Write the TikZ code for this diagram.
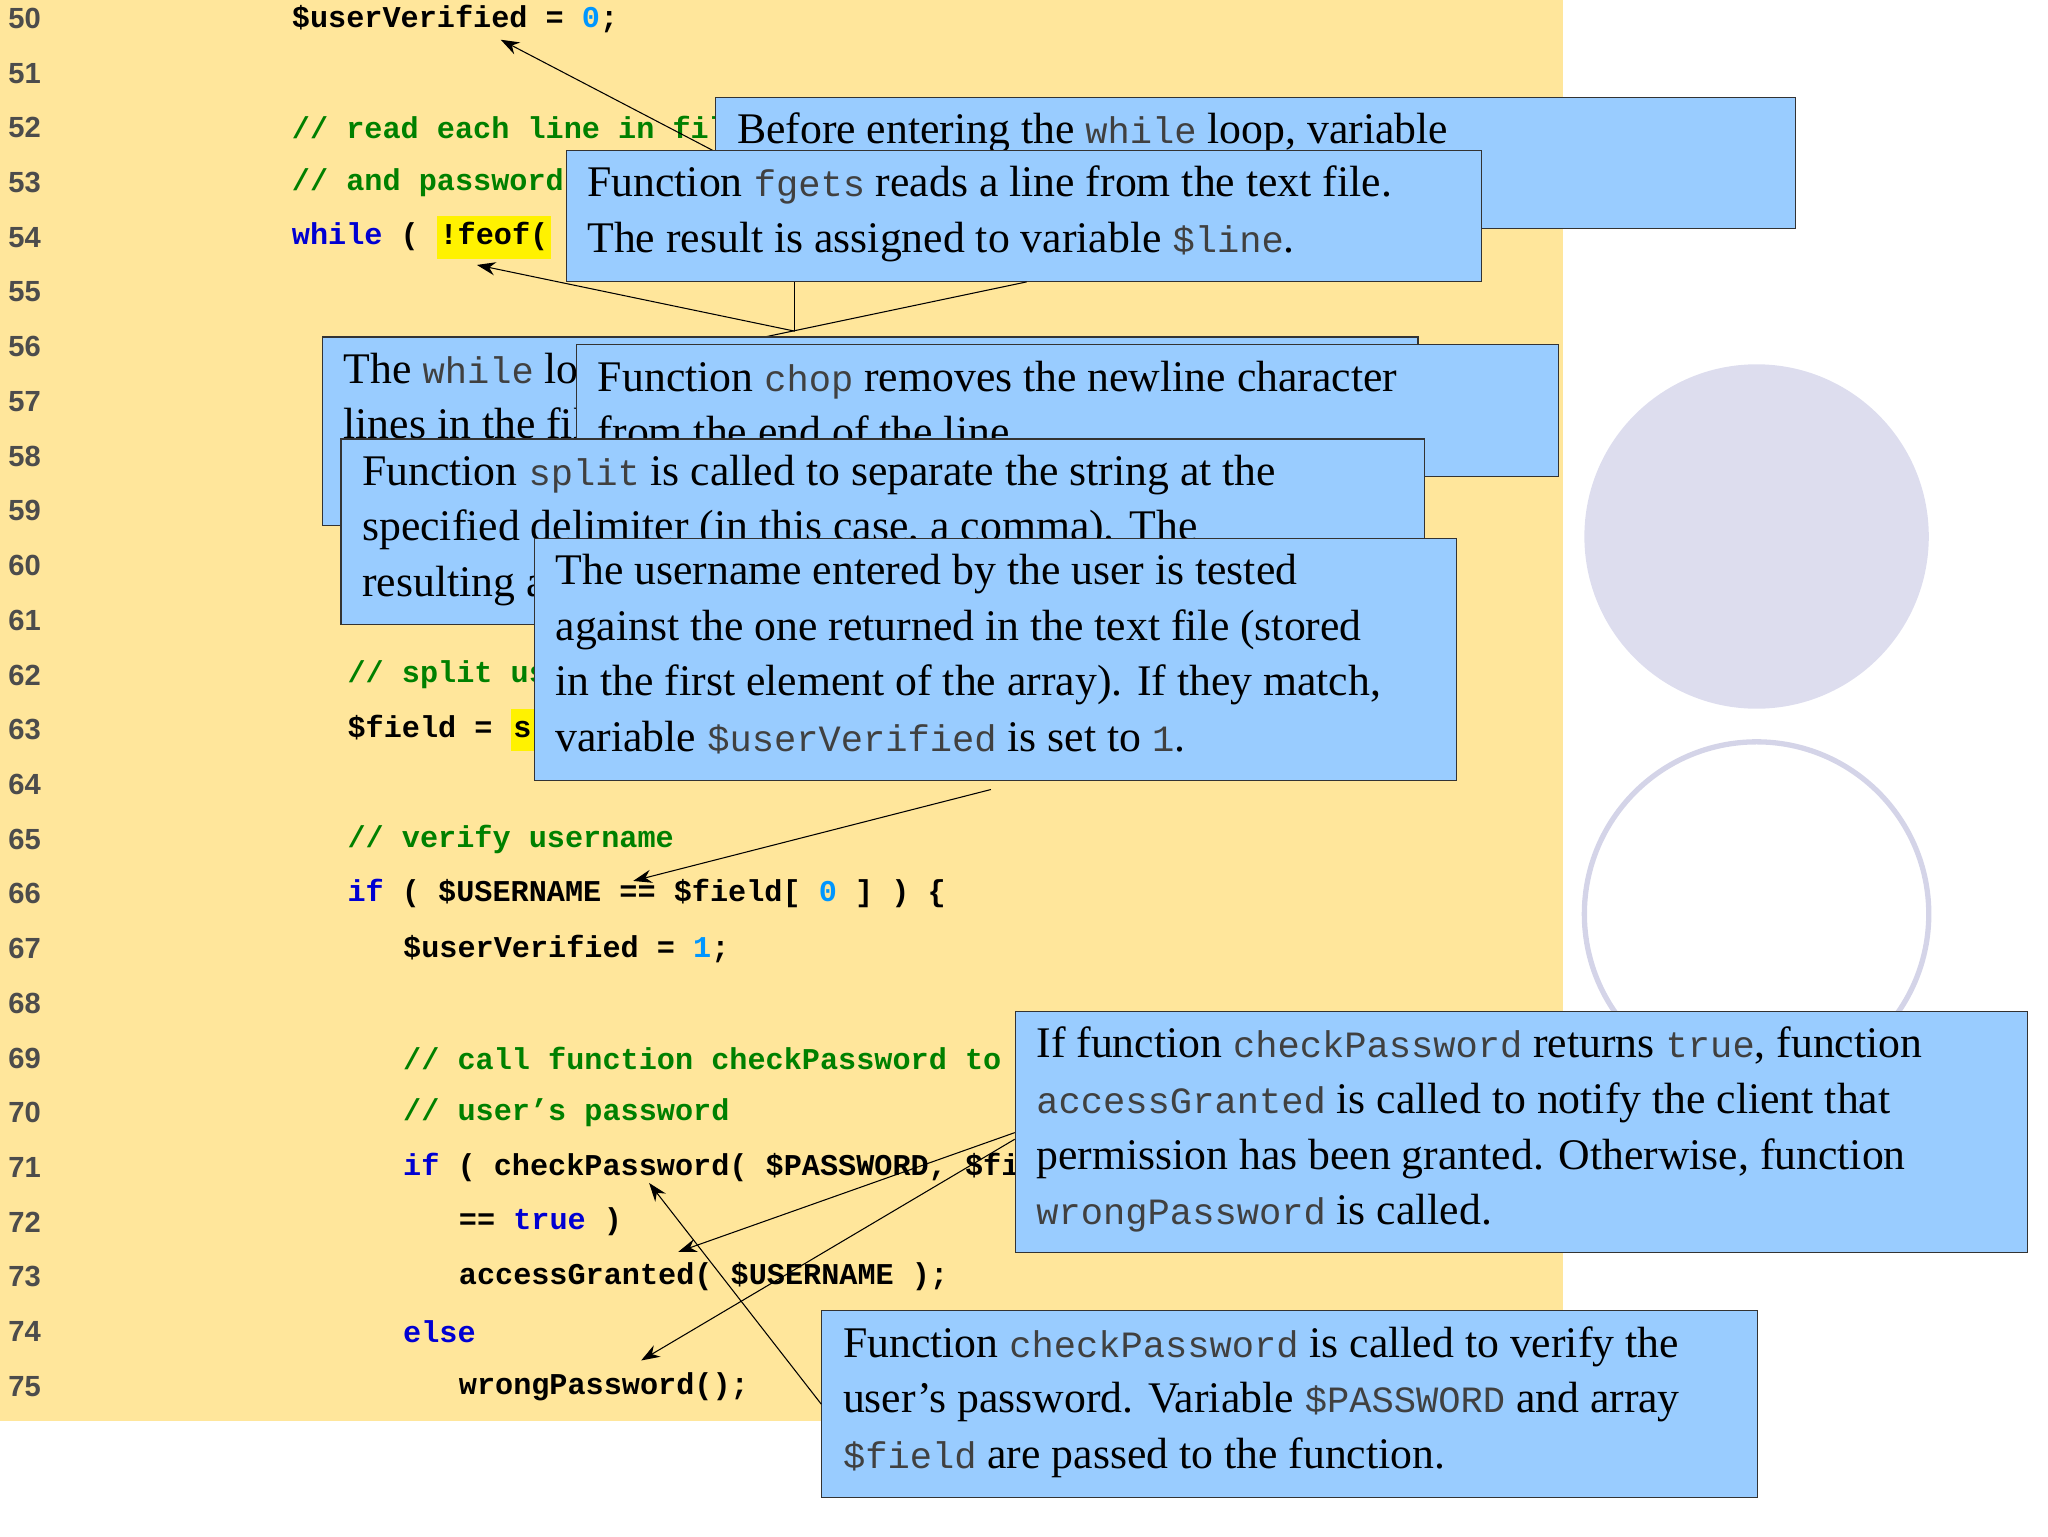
\documentclass[tikz,border=0pt]{standalone}
\usepackage{fontspec}
\setmainfont{Liberation Serif}
\newfontfamily\codefont{Liberation Mono}
\newfontfamily\numfont{Liberation Sans}
\usetikzlibrary{positioning,arrows.meta}
\definecolor{codebg}{RGB}{255,230,155}
\definecolor{callblue}{RGB}{153,204,255}
\definecolor{cmtgreen}{RGB}{0,128,0}
\definecolor{kwblue}{RGB}{0,0,210}
\definecolor{numcyan}{RGB}{0,150,255}
\definecolor{lavender}{RGB}{221,221,238}
\definecolor{lavline}{RGB}{212,212,232}
\newcommand{\cd}[1]{{\codefont\fontsize{14}{21}\selectfont\color{black!75}#1}}
\newcommand{\hl}[1]{{\setlength\fboxsep{1pt}\colorbox{yellow}{\strut #1}}}
\begin{document}
\begin{tikzpicture}[
    x=0.5pt, y=-0.5pt,
    lnum/.style={anchor=west, inner sep=0, font=\numfont\bfseries\fontsize{11}{13}\selectfont, text=black!70},
    codeline/.style={anchor=west, inner sep=0, font=\codefont\bfseries\fontsize{11.4}{14}\selectfont},
    callout/.style={draw=black!80, fill=callblue, anchor=north west, inner sep=0},
    callouttext/.style={anchor=north west, inner sep=0, align=left, font=\fontsize{16.5}{21}\selectfont},
    pointer/.style={-{Stealth[length=7pt,width=5pt]}, thin},
  ]
  \useasboundingbox (0,0) rectangle (1546,1160);
  \fill[codebg] (0,0) rectangle (1180,1073);
  % decorative circles
  \fill[lavender] (1326,405) circle[radius=130];
  \draw[lavline, line width=2pt] (1326,690) circle[radius=130];
  % line numbers
  \foreach \n in {50,...,75}
    \node[lnum] (n\n) at (6,{14+41.3*(\n-50)}) {\n};
  % code
  \node[codeline] (c50) at (220,14.0)   {\$userVerified = \textcolor{numcyan}{0};};
  \node[codeline] (c52) at (220,96.6)   {\textcolor{cmtgreen}{// read each line in file}};
  \node[codeline] (c53) at (220,137.9)  {\textcolor{cmtgreen}{// and password pair}};
  \node[codeline] (c54) at (220,179.2)  {\textcolor{kwblue}{while} ( \hl{!feof(} \$file ) ) \{};
  \node[codeline] (c62) at (262,509.6)  {\textcolor{cmtgreen}{// split user name}};
  \node[codeline] (c63) at (262,550.9)  {\$field = \hl{s}plit( ",", \$line );};
  \node[codeline] (c65) at (262,633.5)  {\textcolor{cmtgreen}{// verify username}};
  \node[codeline] (c66) at (262,674.8)  {\textcolor{kwblue}{if} ( \$USERNAME == \$field[ \textcolor{numcyan}{0} ] ) \{};
  \node[codeline] (c67) at (304,716.1)  {\$userVerified = \textcolor{numcyan}{1};};
  \node[codeline] (c69) at (304,798.7)  {\textcolor{cmtgreen}{// call function checkPassword to}};
  \node[codeline] (c70) at (304,840.0)  {\textcolor{cmtgreen}{// user’s password}};
  \node[codeline] (c71) at (304,881.3)  {\textcolor{kwblue}{if} ( checkPassword( \$PASSWORD, \$field )};
  \node[codeline] (c72) at (346,922.6)  {== \textcolor{kwblue}{true} )};
  \node[codeline] (c73) at (346,963.9)  {accessGranted( \$USERNAME );};
  \node[codeline] (c74) at (304,1005.2) {\textcolor{kwblue}{else}};
  \node[codeline] (c75) at (346,1046.5) {wrongPassword();};
  % pointer targets
  \coordinate (t50) at (378,30);
  \coordinate (t54) at (360,200);
  \coordinate (t66) at (478,665);
  \coordinate (t71) at (490,893);
  \coordinate (t73) at (512,945);
  \coordinate (t75) at (484,1027);
  \coordinate (joint) at (600,250);
  % callouts
  \draw[pointer] (560,125) -- (t50);
  \node[callout, minimum width=407.5pt, minimum height=49.5pt] (before) at (540,73) {};
  \node[callouttext] at ([shift={(16,12)}]before.north west) {Before entering the \cd{while} loop, variable};
  \node[callout, minimum width=345.5pt, minimum height=49.5pt] (fgets) at (427,113) {};
  \node[callouttext] at ([shift={(16,12)}]fgets.north west)
    {Function \cd{fgets} reads a line from the text file.\\The result is assigned to variable \cd{\$line}.};
  \draw (fgets.south -| joint) -- (joint);
  \draw[pointer] (joint) -- (t54);
  \draw (fgets.south -| 775,0) -- (560,258);
  \node[callout, minimum width=413.5pt, minimum height=71pt] (loop) at (243,254) {};
  \node[callouttext] at ([shift={(16,12)}]loop.north west)
    {The \cd{while} loop executes as long as there are\\lines in the file to read.};
  \node[callout, minimum width=370.5pt, minimum height=49.5pt] (chop) at (435,260) {};
  \node[callouttext] at ([shift={(16,12)}]chop.north west)
    {Function \cd{chop} removes the newline character\\from the end of the line.};
  \node[callout, minimum width=409pt, minimum height=70pt] (split) at (257,331) {};
  \node[callouttext] at ([shift={(16,12)}]split.north west)
    {Function \cd{split} is called to separate the string at the\\specified delimiter (in this case, a comma). The\\resulting array is stored in array \cd{\$field}.};
  \node[callout, minimum width=348pt, minimum height=91.5pt] (uname) at (403,406) {};
  \node[callouttext] at ([shift={(16,12)}]uname.north west)
    {The username entered by the user is tested\\against the one returned in the text file (stored\\in the first element of the array). If they match,\\variable \cd{\$userVerified} is set to \cd{1}.};
  \draw[pointer] (748,596) -- (t66);
  \node[callout, minimum width=382pt, minimum height=91pt] (returns) at (766,763) {};
  \node[callouttext] at ([shift={(16,12)}]returns.north west)
    {If function \cd{checkPassword} returns \cd{true}, function\\\cd{accessGranted} is called to notify the client that\\permission has been granted. Otherwise, function\\\cd{wrongPassword} is called.};
  \draw[pointer] (returns.west |- 0,855) -- (t73);
  \draw[pointer] (returns.west |- 0,860) -- (t75);
  \node[callout, minimum width=353pt, minimum height=70.5pt] (verify) at (620,989) {};
  \node[callouttext] at ([shift={(16,12)}]verify.north west)
    {Function \cd{checkPassword} is called to verify the\\user’s password. Variable \cd{\$PASSWORD} and array\\\cd{\$field} are passed to the function.};
  \draw[pointer] (verify.west |- 0,1060) -- (t71);
\end{tikzpicture}
\end{document}
